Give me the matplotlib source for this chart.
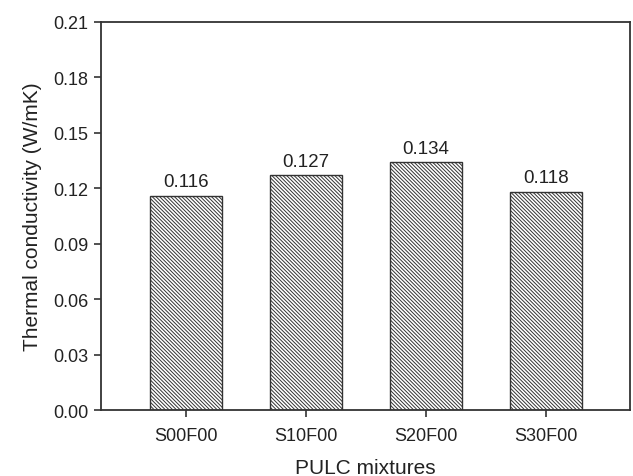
import matplotlib
matplotlib.use('Agg')
import matplotlib.pyplot as plt

# ---------------------------------------------------------------------------

mixtures = ['S00F00', 'S10F00', 'S20F00', 'S30F00']
conductivity = [0.116, 0.127, 0.134, 0.118]
y_ticks = [0.00, 0.03, 0.06, 0.09, 0.12, 0.15, 0.18, 0.21]

dpi = 100.0

plt.rcParams['font.family'] = ['Liberation Sans', 'DejaVu Sans']
plt.rcParams['hatch.linewidth'] = 0.7
plt.rcParams['hatch.color'] = '#555555'

fig = plt.figure(figsize=(633 / dpi, 477 / dpi), dpi=dpi)
ax = fig.add_axes([101 / 633, 1 - 411 / 477, 529 / 633, 388 / 477])

x = range(len(mixtures))
bars = ax.bar(x, conductivity, width=0.6, color='white', edgecolor='#333333',
              linewidth=1.0, hatch='\\' * 9)

for b, v in zip(bars, conductivity):
    ax.text(b.get_x() + b.get_width() / 2, v + 0.003, '%.3f' % v,
            ha='center', va='bottom', fontsize=13.5, color='#222222')

ax.set_xlim(-0.71, 3.7)
ax.set_ylim(0, 0.21)
ax.set_xticks(list(x))
ax.set_xticklabels(mixtures)
ax.set_yticks(y_ticks)
ax.set_yticklabels(['%.2f' % t for t in y_ticks])
ax.tick_params(axis='both', direction='out', length=5, width=1.2, pad=4,
               labelsize=13, colors='#333333', labelcolor='#222222')
ax.tick_params(axis='x', pad=7)
ax.tick_params(top=False, right=False)

for s in ax.spines.values():
    s.set_linewidth(1.3)
    s.set_color('#333333')

ax.set_xlabel('PULC mixtures', fontsize=15, color='#222222', labelpad=10)
ax.set_ylabel('Thermal conductivity (W/mK)', fontsize=15, color='#222222',
              labelpad=8)

fig.savefig('out.png', dpi=dpi, facecolor='white')
